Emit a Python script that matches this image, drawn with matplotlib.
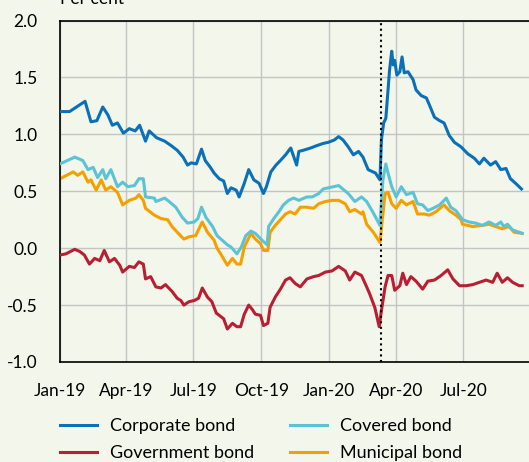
import numpy as np
import pandas as pd
import matplotlib
matplotlib.use("Agg")
import matplotlib.pyplot as plt

# days counted from 1 Jan 2019, values in per cent
corp_days = [0, 13, 34, 42, 50, 58, 65, 71, 78, 86, 94, 102, 108, 116, 121, 131, 142, 151, 159, 167,
             173, 178, 185, 192, 197, 204, 209, 216, 222, 227, 232, 239, 243, 250, 256, 263, 270, 276,
             280, 286, 293, 299, 306, 313, 321, 324, 330, 340, 348, 357, 364, 372, 378, 384, 391, 398,
             405, 411, 418, 428, 434, 436, 439, 442, 445, 447, 450, 452, 454, 457, 461, 464, 467, 472,
             479, 483, 490, 497, 501, 508, 515, 521, 528, 535, 544, 553, 562, 569, 575, 584, 591, 598,
             605, 611, 618, 626]
corp_vals = [1.20, 1.20, 1.29, 1.11, 1.12, 1.24, 1.17, 1.08, 1.10, 1.01, 1.05, 1.03, 1.08, 0.94, 1.03,
             0.97, 0.94, 0.90, 0.86, 0.80, 0.73, 0.75, 0.74, 0.87, 0.77, 0.71, 0.66, 0.61, 0.59, 0.48,
             0.53, 0.51, 0.45, 0.57, 0.69, 0.60, 0.57, 0.48, 0.54, 0.67, 0.73, 0.77, 0.82, 0.88, 0.73,
             0.85, 0.86, 0.88, 0.90, 0.92, 0.93, 0.95, 0.98, 0.95, 0.89, 0.82, 0.85, 0.80, 0.69, 0.66,
             0.60, 0.95, 1.10, 1.14, 1.39, 1.56, 1.73, 1.61, 1.65, 1.52, 1.55, 1.68, 1.54, 1.55, 1.48,
             1.39, 1.34, 1.32, 1.26, 1.15, 1.12, 1.10, 0.99, 0.93, 0.89, 0.83, 0.79, 0.74, 0.79, 0.73,
             0.76, 0.69, 0.70, 0.61, 0.57, 0.52]

cov_days = [0, 20, 31, 38, 45, 51, 58, 62, 69, 78, 85, 92, 101, 107, 113, 116, 128, 130, 142, 148,
            157, 166, 173, 182, 187, 192, 198, 207, 213, 220, 227, 232, 236, 240, 246, 252, 259, 265,
            274, 281, 283, 290, 297, 303, 310, 317, 324, 335, 342, 351, 357, 364, 378, 391, 400, 409,
            416, 425, 434, 438, 442, 445, 450, 456, 463, 470, 479, 485, 492, 499, 506, 515, 524, 530,
            537, 544, 546, 555, 564, 573, 582, 591, 598, 602, 607, 614, 623, 627]
cov_vals = [0.74, 0.80, 0.77, 0.69, 0.71, 0.62, 0.69, 0.61, 0.69, 0.54, 0.58, 0.54, 0.55, 0.61, 0.61,
            0.45, 0.44, 0.41, 0.44, 0.41, 0.36, 0.27, 0.22, 0.23, 0.26, 0.36, 0.27, 0.19, 0.11, 0.07,
            0.03, 0.01, -0.02, -0.05, 0.01, 0.11, 0.15, 0.13, 0.07, 0.03, 0.19, 0.26, 0.32, 0.38, 0.42,
            0.44, 0.42, 0.45, 0.45, 0.48, 0.52, 0.53, 0.55, 0.48, 0.41, 0.45, 0.41, 0.31, 0.20, 0.60,
            0.74, 0.66, 0.54, 0.45, 0.54, 0.47, 0.49, 0.39, 0.38, 0.33, 0.35, 0.38, 0.44, 0.36, 0.33,
            0.27, 0.25, 0.23, 0.22, 0.20, 0.23, 0.20, 0.23, 0.19, 0.21, 0.16, 0.14, 0.13]

muni_days = [0, 18, 24, 31, 38, 42, 49, 56, 62, 69, 78, 85, 94, 103, 107, 113, 116, 128, 137, 146,
             152, 159, 168, 175, 184, 193, 200, 209, 213, 218, 227, 234, 240, 245, 250, 259, 265, 272,
             276, 282, 285, 292, 299, 306, 312, 319, 326, 335, 344, 351, 360, 369, 378, 387, 393, 400,
             409, 411, 416, 425, 434, 441, 445, 450, 456, 463, 470, 479, 485, 494, 501, 510, 521, 528,
             537, 544, 546, 560, 573, 582, 591, 600, 609, 616, 627]
muni_vals = [0.61, 0.67, 0.64, 0.67, 0.58, 0.60, 0.51, 0.60, 0.51, 0.54, 0.49, 0.38, 0.42, 0.44, 0.47,
             0.42, 0.35, 0.29, 0.26, 0.25, 0.19, 0.14, 0.08, 0.10, 0.11, 0.23, 0.14, 0.07, 0.00, -0.05,
             -0.15, -0.09, -0.14, -0.14, 0.01, 0.13, 0.08, 0.04, -0.02, -0.02, 0.14, 0.20, 0.25, 0.30,
             0.32, 0.30, 0.36, 0.36, 0.35, 0.39, 0.41, 0.42, 0.42, 0.39, 0.32, 0.34, 0.30, 0.32, 0.21,
             0.14, 0.05, 0.48, 0.49, 0.39, 0.35, 0.42, 0.38, 0.41, 0.30, 0.30, 0.29, 0.32, 0.38, 0.33,
             0.29, 0.25, 0.21, 0.19, 0.20, 0.21, 0.19, 0.17, 0.19, 0.14, 0.13]

gov_days = [0, 8, 20, 27, 33, 40, 47, 54, 60, 67, 74, 81, 85, 94, 101, 107, 113, 116, 123, 130, 137,
            143, 152, 159, 164, 168, 175, 182, 188, 193, 200, 206, 212, 216, 222, 227, 234, 240, 245,
            250, 256, 261, 265, 272, 276, 282, 285, 292, 299, 306, 312, 319, 326, 335, 344, 351, 360,
            369, 378, 387, 393, 400, 409, 416, 420, 427, 433, 436, 441, 445, 450, 454, 461, 465, 470,
            476, 483, 492, 499, 508, 517, 526, 533, 542, 551, 560, 569, 578, 587, 593, 600, 607, 614,
            623, 627]
gov_vals = [-0.06, -0.05, -0.01, -0.03, -0.06, -0.14, -0.09, -0.11, -0.02, -0.12, -0.09, -0.15, -0.21,
            -0.16, -0.17, -0.12, -0.14, -0.27, -0.25, -0.34, -0.35, -0.32, -0.38, -0.44, -0.46, -0.50,
            -0.47, -0.46, -0.44, -0.35, -0.43, -0.47, -0.57, -0.59, -0.62, -0.71, -0.66, -0.69, -0.69,
            -0.58, -0.50, -0.54, -0.58, -0.59, -0.68, -0.66, -0.52, -0.43, -0.36, -0.28, -0.26, -0.31,
            -0.34, -0.27, -0.25, -0.24, -0.21, -0.20, -0.16, -0.20, -0.28, -0.21, -0.24, -0.34, -0.40,
            -0.52, -0.69, -0.55, -0.34, -0.24, -0.24, -0.37, -0.33, -0.22, -0.32, -0.25, -0.29, -0.36,
            -0.29, -0.28, -0.24, -0.19, -0.27, -0.33, -0.33, -0.32, -0.30, -0.28, -0.30, -0.22, -0.30,
            -0.26, -0.30, -0.33, -0.33]

start = pd.Timestamp("2019-01-01")
event_date = pd.Timestamp("2020-03-11")
tick_dates = pd.to_datetime(["2019-01-01", "2019-04-01", "2019-07-01", "2019-10-01",
                             "2020-01-01", "2020-04-01", "2020-07-01"])
tick_labels = ["Jan-19", "Apr-19", "Jul-19", "Oct-19", "Jan-20", "Apr-20", "Jul-20"]


def to_dates(days):
    return start + pd.to_timedelta(days, unit="D")


plt.rcParams["font.family"] = ["Lato", "DejaVu Sans"]
bg = "#f3f6ea"

fig = plt.figure(figsize=(5.29, 4.62), dpi=100, facecolor=bg)
ax = fig.add_axes([60 / 529, 100 / 462, 474 / 529, 341.5 / 462], facecolor=bg)

lw = 2.2
l1, = ax.plot(to_dates(corp_days), corp_vals, color="#0a70b8", lw=lw, label="Corporate bond", zorder=3)
l2, = ax.plot(to_dates(gov_days), gov_vals, color="#b81f32", lw=lw, label="Government bond", zorder=3)
l3, = ax.plot(to_dates(cov_days), cov_vals, color="#5cc3d6", lw=lw, label="Covered bond", zorder=3)
l4, = ax.plot(to_dates(muni_days), muni_vals, color="#f6a000", lw=lw, label="Municipal bond", zorder=2)
ax.axvline(event_date, color="black", ls=":", lw=1.5, zorder=4)

ax.set_xlim(start, pd.Timestamp("2020-10-05"))
ax.set_ylim(-1.0, 2.0)
ax.set_yticks(np.arange(-1.0, 2.01, 0.5))
ax.set_yticklabels([f"{v:.1f}" for v in np.arange(-1.0, 2.01, 0.5)])
ax.set_xticks(tick_dates)
ax.set_xticklabels(tick_labels)
ax.tick_params(length=0, labelsize=12.5, colors="black")
ax.tick_params(axis="y", pad=16)
ax.tick_params(axis="x", pad=15)
ax.grid(True, color="#c4c4c4", lw=1.0)
ax.set_axisbelow(True)
for s in ["left", "bottom", "top"]:
    ax.spines[s].set_color("black")
    ax.spines[s].set_linewidth(1.2)
ax.spines["right"].set_visible(False)

fig.text(60 / 529, 1 - 7 / 462, "Per cent", fontsize=12.5, ha="left", va="bottom")

fig.legend(handles=[l1, l2, l3, l4], loc="upper left", bbox_to_anchor=(51 / 529, 1 - 409 / 462),
           ncol=2, frameon=False, fontsize=13, handlelength=2.05, handletextpad=0.7,
           columnspacing=2.0, labelspacing=0.6, borderpad=0)

fig.savefig("out.png", dpi=100, facecolor=bg)
